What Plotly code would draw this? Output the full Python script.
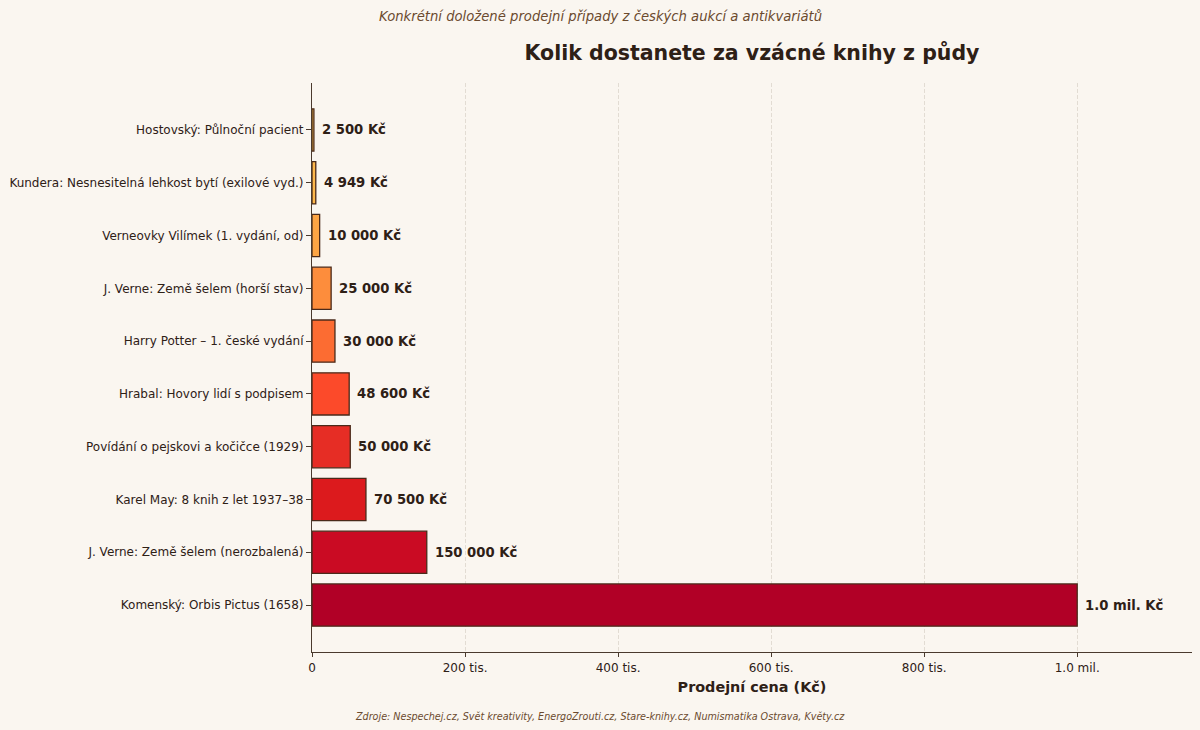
import plotly.graph_objects as go

# data, bottom to top as shown in the chart
books = [
    "Komenský: Orbis Pictus (1658)",
    "J. Verne: Země šelem (nerozbalená)",
    "Karel May: 8 knih z let 1937–38",
    "Povídání o pejskovi a kočičce (1929)",
    "Hrabal: Hovory lidí s podpisem",
    "Harry Potter – 1. české vydání",
    "J. Verne: Země šelem (horší stav)",
    "Verneovky Vilímek (1. vydání, od)",
    "Kundera: Nesnesitelná lehkost bytí (exilové vyd.)",
    "Hostovský: Půlnoční pacient",
]
prices = [1000000, 150000, 70500, 50000, 48600, 30000, 25000, 10000, 4949, 2500]
price_labels = ["1.0 mil. Kč", "150 000 Kč", "70 500 Kč", "50 000 Kč", "48 600 Kč",
                "30 000 Kč", "25 000 Kč", "10 000 Kč", "4 949 Kč", "2 500 Kč"]
bar_colors = ["#b10026", "#ca0b23", "#dc1a1d", "#e62d25", "#fc4a2a",
              "#fc6c32", "#fd8d3c", "#fda544", "#fdb84c", "#fec857"]
tick_vals = [0, 200000, 400000, 600000, 800000, 1000000]
tick_text = ["0", "200 tis.", "400 tis.", "600 tis.", "800 tis.", "1.0 mil."]

bg = "#faf6f0"
dark = "#2e2016"
axis_col = "#4a3a2e"

fig = go.Figure()
fig.add_trace(go.Bar(
    x=prices, y=books, orientation="h", width=0.8,
    marker=dict(color=bar_colors, line=dict(color="#4a2a1a", width=1.3)),
    hoverinfo="skip",
))

for p, b, lab in zip(prices, books, price_labels):
    fig.add_annotation(x=p, y=b, text="<b>" + lab + "</b>", showarrow=False,
                       xanchor="left", yanchor="middle", xshift=6,
                       font=dict(size=13.2, color=dark))

fig.add_annotation(xref="paper", yref="paper", x=(600 - 312) / 880, y=(652 - 16) / 569,
                   text="<i>Konkrétní doložené prodejní případy z českých aukcí a antikvariátů</i>",
                   showarrow=False, xanchor="center", yanchor="middle",
                   font=dict(size=13.2, color="#6b4a2e"))
fig.add_annotation(xref="paper", yref="paper", x=(600 - 312) / 880, y=(652 - 716) / 569,
                   text="<i>Zdroje: Nespechej.cz, Svět kreativity, EnergoZrouti.cz, Stare-knihy.cz, Numismatika Ostrava, Květy.cz</i>",
                   showarrow=False, xanchor="center", yanchor="middle",
                   font=dict(size=9.6, color="#6b4a2e"))

fig.update_layout(
    width=1200, height=730,
    paper_bgcolor=bg, plot_bgcolor=bg,
    font=dict(family="DejaVu Sans", color=dark),
    margin=dict(l=312, r=8, t=83, b=78),
    showlegend=False,
    title=dict(text="<b>Kolik dostanete za vzácné knihy z půdy</b>",
               x=0.5, xref="paper", xanchor="center",
               y=1 - 53 / 730, yref="container", yanchor="middle",
               font=dict(size=20.5, color=dark)),
    xaxis=dict(range=[0, 1150000], tickvals=tick_vals, ticktext=tick_text,
               showline=True, linecolor=axis_col, linewidth=1.2,
               ticks="outside", ticklen=4, tickcolor=axis_col,
               tickfont=dict(size=12, color=dark),
               showgrid=True, gridcolor="#e2dcd3", griddash="4px,2px", gridwidth=0.8,
               zeroline=False, automargin=False,
               title=dict(text="<b>Prodejní cena (Kč)</b>", font=dict(size=14.4, color=dark), standoff=8)),
    yaxis=dict(categoryorder="array", categoryarray=books, range=[-0.89, 9.89],
               showline=True, linecolor=axis_col, linewidth=1.2,
               ticks="outside", ticklen=5, tickcolor=axis_col,
               tickfont=dict(size=12, color=dark),
               showgrid=False, zeroline=False, automargin=False),
)

fig.write_html("out.html", config={"displayModeBar": False},
               post_script="document.body.style.margin='0';")
